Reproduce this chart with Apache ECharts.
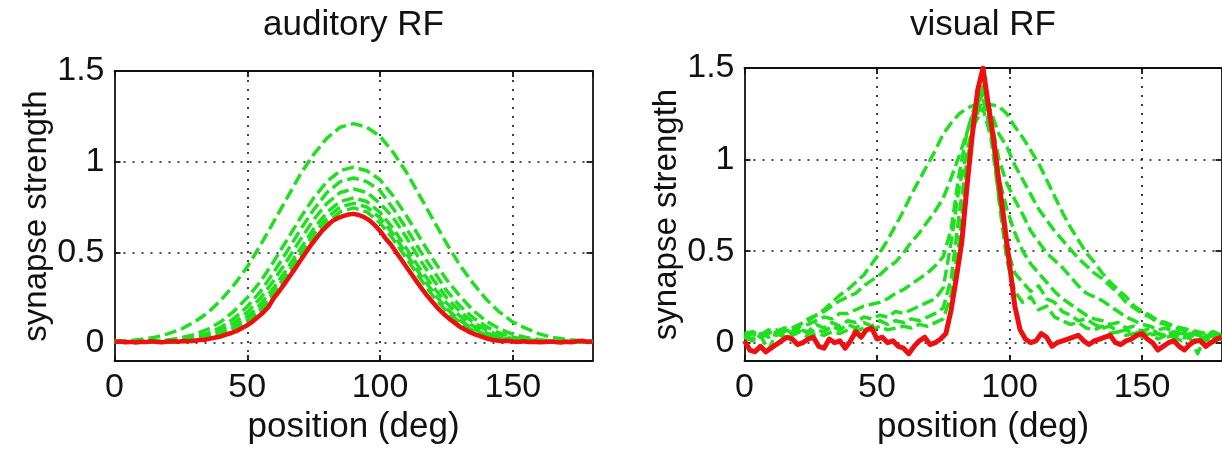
<!DOCTYPE html>
<html><head><meta charset="utf-8">
<script src="https://cdn.jsdelivr.net/npm/echarts@6/dist/echarts.min.js"></script>
<style>html,body{margin:0;padding:0;background:#fff}#c{width:1222px;height:450px}</style>
</head><body><div id="c"></div>
<script>
// ---- text ----
const titles = ['auditory RF', 'visual RF'];
const xName = 'position (deg)';
const yName = 'synapse strength';

// ---- sampling steps (deg) ----
const audRedStep = 2, audGreenStep = 5, visRedStep = 2, visGreenStep = 3;

// ---- auditory RF : red (final) ----
const audRed = [0.005,0.008,0.004,0.006,0.003,0.007,0.005,0.009,0.006,0.004,
 0.008,0.010,0.007,0.011,0.009,0.012,0.016,0.018,0.024,0.030,
 0.036,0.046,0.055,0.066,0.082,0.098,0.118,0.143,0.168,0.200,
 0.248,0.285,0.326,0.368,0.410,0.455,0.498,0.540,0.578,0.616,
 0.645,0.672,0.688,0.700,0.708,0.712,0.706,0.694,0.676,0.650,
 0.618,0.578,0.544,0.502,0.460,0.418,0.376,0.334,0.294,0.256,
 0.222,0.188,0.160,0.134,0.112,0.090,0.074,0.058,0.046,0.036,
 0.026,0.018,0.014,0.010,0.012,0.008,0.006,0.009,0.005,0.007,
 0.004,0.006,0.008,0.005,0.003,0.007,0.004,0.009,0.012,0.006,0.008];
// ---- auditory RF : green (intermediate, dashed) ----
const audG1 = [0.01,0.012,0.02,0.03,0.05,0.075,0.115,0.165,0.235,0.32,0.42,0.54,0.67,0.8,0.93,1.04,1.13,1.19,1.21,1.19,1.14,1.05,0.94,0.81,0.68,0.55,0.43,0.33,0.24,0.17,0.115,0.08,0.05,0.03,0.02,0.012,0.01];
const audG2 = [0.008,0.008,0.008,0.011,0.017,0.028,0.046,0.075,0.117,0.175,0.25,0.34,0.45,0.57,0.69,0.80,0.89,0.95,0.97,0.95,0.90,0.81,0.70,0.58,0.46,0.35,0.26,0.18,0.12,0.078,0.048,0.03,0.018,0.011,0.008,0.008,0.008];
const audG3 = [0.008,0.008,0.008,0.008,0.011,0.018,0.031,0.052,0.086,0.135,0.20,0.285,0.39,0.505,0.625,0.735,0.83,0.89,0.91,0.89,0.84,0.74,0.63,0.51,0.40,0.29,0.205,0.14,0.09,0.055,0.032,0.019,0.011,0.008,0.008,0.008,0.008];
const audG4 = [0.008,0.008,0.008,0.008,0.008,0.013,0.023,0.041,0.069,0.111,0.17,0.248,0.345,0.455,0.57,0.68,0.77,0.83,0.85,0.83,0.77,0.69,0.58,0.46,0.35,0.25,0.175,0.115,0.07,0.042,0.024,0.013,0.008,0.008,0.008,0.008,0.008];
const audG5 = [0.007,0.007,0.007,0.007,0.007,0.011,0.017,0.031,0.055,0.091,0.144,0.215,0.305,0.41,0.52,0.63,0.72,0.78,0.80,0.78,0.72,0.63,0.52,0.41,0.31,0.22,0.15,0.094,0.056,0.031,0.017,0.011,0.007,0.007,0.007,0.007,0.007];
const audG6 = [0.008,0.008,0.008,0.008,0.008,0.008,0.013,0.025,0.045,0.078,0.125,0.19,0.28,0.38,0.49,0.60,0.69,0.75,0.77,0.75,0.69,0.60,0.49,0.38,0.28,0.19,0.125,0.078,0.045,0.025,0.013,0.008,0.008,0.008,0.008,0.008,0.008];
const audG7 = [0.007,0.007,0.007,0.007,0.007,0.007,0.011,0.021,0.039,0.069,0.113,0.176,0.258,0.357,0.465,0.571,0.662,0.723,0.745,0.723,0.662,0.571,0.465,0.357,0.258,0.176,0.113,0.069,0.039,0.021,0.011,0.007,0.007,0.007,0.007,0.007,0.007];

// ---- visual RF : red (final) ----
const visRed = [0.01,-0.04,-0.05,-0.02,-0.05,-0.03,-0.01,0.01,0.03,0.02,
 -0.01,0.00,0.02,0.03,-0.02,-0.03,0.02,0.00,0.01,-0.03,
 0.01,0.06,0.03,0.07,0.08,0.02,0.03,0.00,0.01,-0.02,
 -0.03,-0.06,-0.02,0.01,0.03,-0.01,0.00,0.02,0.05,0.18,
 0.36,0.55,0.86,1.14,1.38,1.50,1.30,1.11,0.88,0.66,
 0.43,0.20,0.07,0.02,0.00,0.01,0.05,0.03,-0.02,0.00,
 0.01,0.02,0.03,0.04,0.01,-0.01,0.01,0.02,0.03,0.04,
 0.00,-0.01,0.01,0.02,0.04,0.05,0.02,0.00,-0.04,-0.02,
 0.00,0.01,-0.02,-0.04,-0.01,0.01,0.01,-0.02,0.00,0.02,0.03];
// ---- visual RF : green (intermediate, dashed) ----
const visG1 = [0.05,0.06,0.04,0.07,0.06,0.08,0.08,0.10,0.13,0.15,
 0.18,0.22,0.26,0.29,0.33,0.37,0.43,0.49,0.56,0.64,
 0.72,0.81,0.89,0.97,1.05,1.14,1.20,1.25,1.28,1.30,
 1.31,1.30,1.29,1.25,1.18,1.12,1.05,0.98,0.89,0.80,
 0.71,0.63,0.56,0.49,0.44,0.38,0.33,0.29,0.25,0.20,
 0.17,0.15,0.12,0.11,0.09,0.08,0.07,0.06,0.05,0.06,0.04];
const visG2 = [0.04,0.05,0.03,0.05,0.07,0.06,0.08,0.10,0.12,0.15,
 0.17,0.20,0.23,0.25,0.27,0.31,0.34,0.37,0.41,0.44,
 0.49,0.55,0.60,0.66,0.72,0.79,0.90,1.02,1.15,1.28,
 1.36,1.26,1.14,1.07,0.97,0.89,0.81,0.73,0.67,0.61,
 0.56,0.51,0.46,0.42,0.38,0.35,0.31,0.27,0.22,0.19,
 0.16,0.14,0.11,0.10,0.08,0.07,0.06,0.05,0.06,0.04,0.05];
const visG3 = [0.03,0.05,0.04,0.06,0.04,0.07,0.06,0.09,0.10,0.12,
 0.14,0.13,0.16,0.16,0.18,0.20,0.21,0.22,0.24,0.27,
 0.29,0.32,0.35,0.38,0.42,0.47,0.62,0.92,1.15,1.30,
 1.38,1.22,1.00,0.87,0.78,0.70,0.61,0.55,0.49,0.45,
 0.41,0.36,0.31,0.27,0.25,0.23,0.20,0.17,0.14,0.12,
 0.10,0.09,0.07,0.08,0.06,0.05,0.06,0.04,0.05,0.03,0.04];
const visG4 = [0.02,0.06,0.03,0.05,0.04,0.08,0.05,0.07,0.06,0.10,
 0.08,0.11,0.09,0.12,0.11,0.14,0.13,0.15,0.14,0.17,
 0.16,0.18,0.20,0.22,0.24,0.30,0.55,0.85,1.05,1.22,
 1.33,1.15,0.90,0.73,0.60,0.50,0.43,0.38,0.33,0.28,
 0.24,0.21,0.18,0.15,0.13,0.12,0.10,0.11,0.08,0.09,
 0.06,0.08,0.05,0.04,0.06,0.03,0.05,0.04,0.02,0.05,0.03];
const visG5 = [0.04,0.02,0.05,0.03,0.06,0.04,0.05,0.08,0.05,0.07,
 0.06,0.09,0.07,0.10,0.08,0.11,0.09,0.12,0.10,0.12,
 0.11,0.13,0.12,0.14,0.16,0.19,0.35,0.70,1.00,1.20,
 1.28,1.12,0.80,0.52,0.38,0.33,0.28,0.31,0.24,0.22,
 0.17,0.15,0.12,0.13,0.10,0.08,0.09,0.06,0.07,0.05,
 0.06,0.04,0.05,0.03,0.04,0.02,0.04,0.03,0.01,0.03,0.02];
const visG6 = [0.03,0.01,0.04,-0.04,0.05,0.03,0.04,0.06,0.03,0.05,
 0.04,0.06,0.05,0.07,0.06,0.08,0.07,0.09,0.07,0.08,
 0.09,0.08,0.10,0.09,0.11,0.13,0.26,0.55,0.95,1.25,
 1.40,1.20,0.78,0.45,0.28,0.22,0.25,0.18,0.20,0.14,
 0.12,0.10,0.11,0.08,0.07,0.09,0.05,0.06,0.04,0.05,
 0.03,0.05,0.02,0.04,0.03,0.01,0.03,-0.06,0.04,0.01,0.02];

const audGreens = [audG1, audG2, audG3, audG4, audG5, audG6, audG7];
const visGreens = [visG1, visG2, visG3, visG4, visG5, visG6];

// ---- styling ----
const FONT = 'Liberation Sans';
const GREEN = '#1fe01f';
const RED = '#ee1010';
const BLACK = '#111';

function pairs(arr, step) { return arr.map((v, i) => [i * step, v]); }

const axisLineStyle = { color: BLACK, width: 1.8 };
const gridLineStyle = { type: [2, 7], color: BLACK, width: 1.6 };
const labelStyle = { color: BLACK, fontSize: 34, fontFamily: FONT };

const grids = [
  { left: 114.5, top: 71, width: 478, height: 291 },
  { left: 744.5, top: 68, width: 477, height: 293 }
];

const xAxis = [], yAxis = [], series = [];
[0, 1].forEach(p => {
  xAxis.push({
    gridIndex: p, type: 'value', min: 0, max: 180, minInterval: 50, maxInterval: 50,
    position: 'bottom',
    axisLine: { show: true, onZero: false, lineStyle: axisLineStyle },
    axisTick: { show: true, inside: true, length: 6, lineStyle: axisLineStyle },
    axisLabel: Object.assign({ showMaxLabel: false, margin: 10 }, labelStyle),
    splitLine: { show: true, showMinLine: false, showMaxLine: false, lineStyle: gridLineStyle },
    name: xName, nameLocation: 'middle', nameGap: 42,
    nameTextStyle: { color: BLACK, fontSize: 35, fontFamily: FONT }
  });
  xAxis.push({
    gridIndex: p, type: 'value', min: 0, max: 180, minInterval: 50, maxInterval: 50,
    position: 'top',
    axisLine: { show: true, onZero: false, lineStyle: axisLineStyle },
    axisTick: { show: true, inside: true, length: 6, lineStyle: axisLineStyle },
    axisLabel: { show: false }, splitLine: { show: false }
  });
  yAxis.push({
    gridIndex: p, type: 'value', min: -0.1, max: 1.5, minInterval: 0.5, maxInterval: 0.5,
    position: 'left',
    axisLine: { show: true, onZero: false, lineStyle: axisLineStyle },
    axisTick: { show: true, inside: true, length: 6, lineStyle: axisLineStyle },
    axisLabel: Object.assign({ showMinLabel: false, margin: 10 }, labelStyle),
    splitLine: { show: true, showMinLine: false, showMaxLine: false, lineStyle: gridLineStyle },
    name: yName, nameLocation: 'middle', nameGap: 60,
    nameTextStyle: { color: BLACK, fontSize: 33, fontFamily: FONT }
  });
  yAxis.push({
    gridIndex: p, type: 'value', min: -0.1, max: 1.5, minInterval: 0.5, maxInterval: 0.5,
    position: 'right',
    axisLine: { show: true, onZero: false, lineStyle: axisLineStyle },
    axisTick: { show: true, inside: true, length: 6, lineStyle: axisLineStyle },
    axisLabel: { show: false }, splitLine: { show: false }
  });
});

function addLine(p, data, color, width, dashed, z) {
  series.push({
    type: 'line', xAxisIndex: p * 2, yAxisIndex: p * 2, data: data,
    symbol: 'none', showSymbol: false, silent: true, z: z,
    lineStyle: { color: color, width: width, type: dashed ? [12, 5] : 'solid', cap: 'butt', join: 'round' }
  });
}
audGreens.forEach(g => addLine(0, pairs(g, audGreenStep), GREEN, 3.5, true, 3));
addLine(0, pairs(audRed, audRedStep), RED, 4.5, false, 4);
visGreens.forEach(g => addLine(1, pairs(g, visGreenStep), GREEN, 3.5, true, 3));
addLine(1, pairs(visRed, visRedStep), RED, 5, false, 4);

const chart = echarts.init(document.getElementById('c'), null, { renderer: 'canvas' });
chart.setOption({
  animation: false,
  backgroundColor: '#fff',
  grid: grids,
  xAxis: xAxis,
  yAxis: yAxis,
  series: series,
  graphic: [
    { type: 'text', x: 353.5, y: 25, style: { text: titles[0], fontSize: 35, fontFamily: FONT, fill: BLACK, align: 'center', verticalAlign: 'middle' } },
    { type: 'text', x: 983, y: 25, style: { text: titles[1], fontSize: 35, fontFamily: FONT, fill: BLACK, align: 'center', verticalAlign: 'middle' } }
  ]
});
</script></body></html>
